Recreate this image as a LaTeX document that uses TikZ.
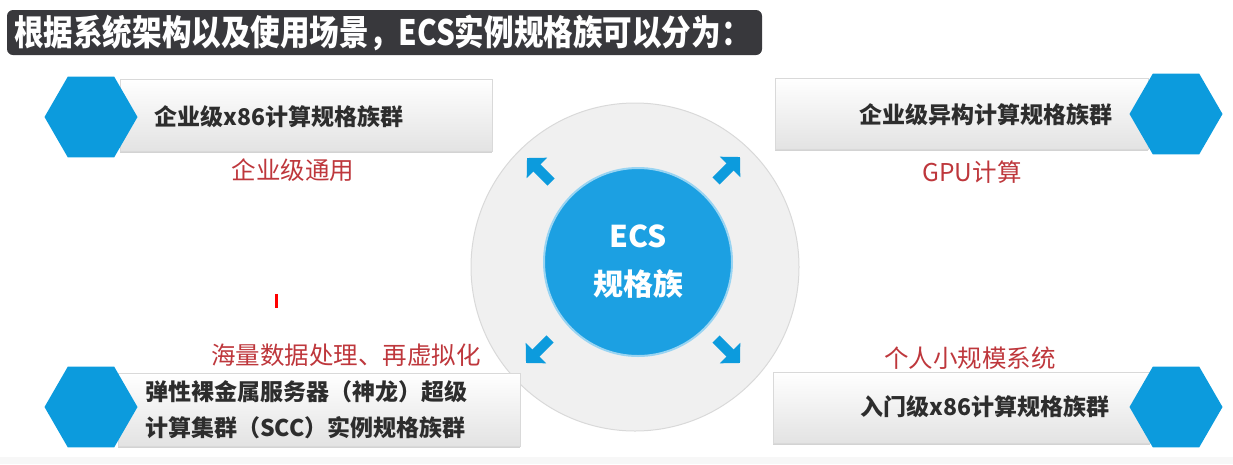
\documentclass[tikz,border=0pt]{standalone}
\usepackage{fontspec}
\setmainfont{Noto Sans CJK SC}
\usepackage{xcolor}
\usepackage{tikz}
\usetikzlibrary{shapes}
\usetikzlibrary{shadows}
\usetikzlibrary{arrows.meta}
\definecolor{ecsblue}{RGB}{12,155,221}
\definecolor{coreblue}{RGB}{28,160,226}
\definecolor{titlegray}{RGB}{56,56,60}
\definecolor{labelred}{RGB}{190,55,60}
\definecolor{textgray}{RGB}{45,45,45}
\tikzset{
	hexa node/.style={regular polygon,regular polygon sides=6,fill=ecsblue,minimum size=93pt,inner sep=0pt},
	box node/.style={rectangle,draw=gray!30,top color=white,bottom color=gray!22,inner sep=0pt,
		drop shadow={shadow xshift=0pt,shadow yshift=-2pt,opacity=0.35}},
	box text/.style={font=\fontsize{23}{36}\selectfont\bfseries,text=textgray,inner sep=0pt},
	red label/.style={font=\fontsize{24.5}{28}\selectfont,text=labelred,inner sep=0pt},
	fat arrow/.style={line width=10pt,draw=ecsblue,-{Triangle[width=28pt,length=14pt]}}
}

\begin{document}
\begin{tikzpicture}[x=1pt,y=-1pt]
	\useasboundingbox (0,0) rectangle (1233,464);
	\fill[gray!6] (0,457) rectangle (1233,464);

	\node [fill=titlegray,rounded corners=6pt,minimum width=755pt,minimum height=45pt,inner sep=0pt] (bar) at (384.5,32.5) {};
	\node [anchor=west,text=white,font=\fontsize{35}{40}\selectfont\bfseries,xscale=0.845,transform shape,inner sep=0pt]
		(title) at (14,33) {根据系统架构以及使用场景，ECS实例规格族可以分为：};

	\node [circle,fill=gray!12,draw=gray!30,line width=1pt,minimum size=328pt,inner sep=0pt] (ring) at (635,267) {};
	\node [circle,fill=coreblue,draw=coreblue!45,line width=2pt,minimum size=188pt,inner sep=0pt,
		text=white,align=center,font=\fontsize{30}{48}\selectfont\bfseries] (core) at (638,262) {ECS\\规格族};

	\coordinate (tl tail) at (551,182);
	\coordinate (tl tip) at (527,158);
	\coordinate (tr tail) at (716,181);
	\coordinate (tr tip) at (740,157);
	\coordinate (bl tail) at (550,339);
	\coordinate (bl tip) at (526,363);
	\coordinate (br tail) at (716,339);
	\coordinate (br tip) at (740,363);
	\draw [fat arrow] (tl tail) -- (tl tip);
	\draw [fat arrow] (tr tail) -- (tr tip);
	\draw [fat arrow] (bl tail) -- (bl tip);
	\draw [fat arrow] (br tail) -- (br tip);

	\node [box node,minimum width=372pt,minimum height=72pt] (box1) at (306,115) {};
	\node [hexa node] (hex1) at (91,117) {};
	\node [box text] (text1) at (279,117) {企业级x86计算规格族群};
	\node [red label] (label1) at (293,170) {企业级通用};

	\node [box node,minimum width=373pt,minimum height=71pt] (box2) at (961.5,113.5) {};
	\node [hexa node] (hex2) at (1176,114) {};
	\node [box text] (text2) at (986,115) {企业级异构计算规格族群};
	\node [red label] (label2) at (972,172) {GPU计算};

	\node [box node,minimum width=402pt,minimum height=73pt] (box3) at (319,409.5) {};
	\node [hexa node] (hex3) at (91,407) {};
	\node [box text,align=left] (text3) at (306,410) {弹性裸金属服务器（神龙）超级\\计算集群（SCC）实例规格族群};
	\node [red label] (label3) at (346,355) {海量数据处理、再虚拟化};

	\node [box node,minimum width=377pt,minimum height=71pt] (box4) at (961.5,407.5) {};
	\node [hexa node] (hex4) at (1176,407) {};
	\node [box text] (text4) at (985,407) {入门级x86计算规格族群};
	\node [red label] (label4) at (970,358) {个人小规模系统};

	\node [fill=red,minimum width=3pt,minimum height=14pt,inner sep=0pt] (mark) at (276.5,301) {};
\end{tikzpicture}
\end{document}
